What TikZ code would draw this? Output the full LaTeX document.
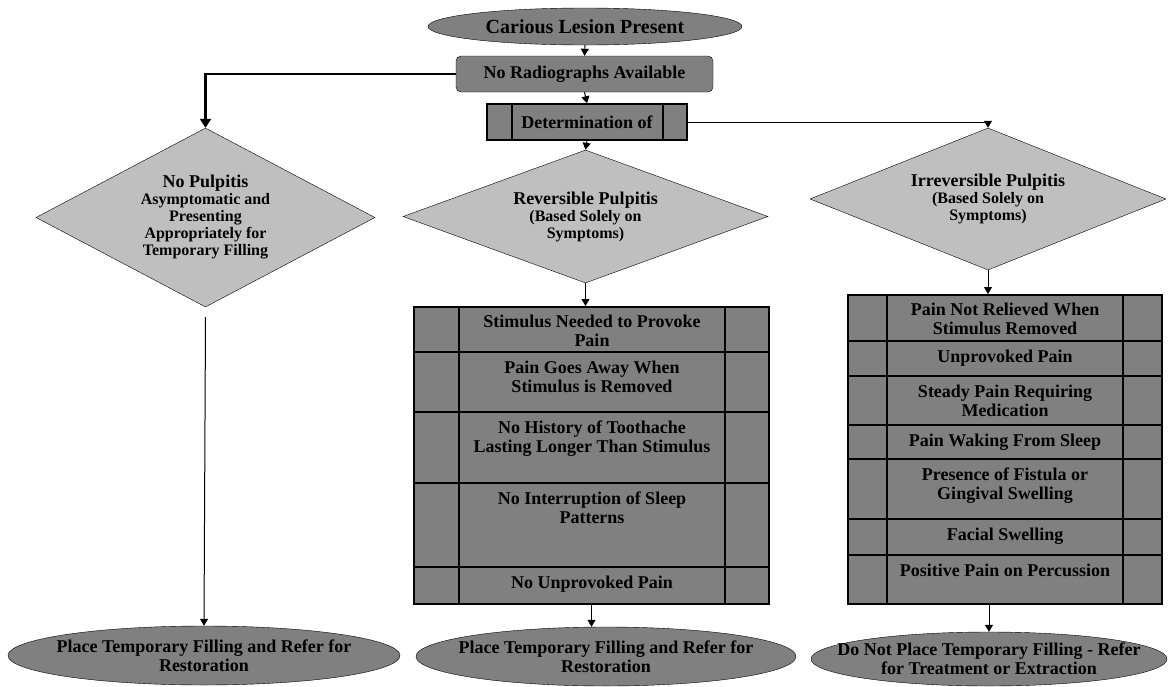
\documentclass[tikz,border=0pt]{standalone}
\usepackage{fontspec}
\setmainfont{Liberation Serif}
\usetikzlibrary{shapes.geometric,arrows.meta}

\tikzset{
  termfill/.style={fill=black!50,draw=black,thin},
  termtext/.style={align=center,inner sep=0pt},
  darkbox/.style={fill=black!50,draw=black,thin,align=center,inner sep=2pt},
  decision/.style={diamond,fill=black!25,draw=black,thin,align=center,inner sep=0pt,
    font=\bfseries\fontsize{16}{17}\selectfont},
  tabframe/.style={anchor=north west,fill=black!50,draw=black,line width=2pt,inner sep=0pt},
  tabline/.style={line width=2pt},
  rowtext/.style={anchor=north,align=center,inner xsep=2pt,inner ysep=9pt},
  flow/.style={-{Triangle[width=8pt,length=7pt]},line width=1pt},
  bigflow/.style={-{Triangle[width=11pt,length=9pt]},line width=2.5pt}
}
\newcommand{\headfont}{\fontsize{18}{19}\selectfont}

\begin{document}
\begin{tikzpicture}[x=1pt,y=-1pt,font=\bfseries\fontsize{18}{19}\selectfont]
\useasboundingbox (0,0) rectangle (1168,686);

\filldraw[termfill] (585,26.5) ellipse [x radius=157,y radius=18.5]
  node[termtext,minimum width=314pt,minimum height=37pt,font=\bfseries\fontsize{20}{21}\selectfont] (start) {Carious Lesion Present};
\node[darkbox,rounded corners=5pt,minimum width=257pt,minimum height=36pt] (radio) at (584.5,74) {No Radiographs Available};
\node[darkbox,line width=1.5pt,minimum width=200pt,minimum height=36pt] (det) at (587,122) {Determination of};
\draw[line width=1.5pt] (512,104) -- (512,140) (663,104) -- (663,140);

\node[decision,aspect=1.89,minimum width=339pt,minimum height=179pt] (ndia) at (205.5,217.5)
  {{\headfont No Pulpitis}\\Asymptomatic and\\Presenting\\Appropriately for\\Temporary Filling};
\node[decision,aspect=2.74,minimum width=365pt,minimum height=133pt] (rdia) at (585.5,216.5)
  {{\headfont Reversible Pulpitis}\\(Based Solely on\\Symptoms)};
\node[decision,aspect=2.5,minimum width=356pt,minimum height=142pt] (idia) at (988,199)
  {{\headfont Irreversible Pulpitis}\\(Based Solely on\\Symptoms)};

\node[tabframe,minimum width=355pt,minimum height=297pt] (mtab) at (413,306) {};
\draw[tabline] (459,306) -- (459,603) (725,306) -- (725,603);
\foreach \y in {352,412,483,567}
  \draw[tabline] (413,\y) -- (768,\y);
\node[rowtext] (m1) at (592,306) {Stimulus Needed to Provoke\\Pain};
\node[rowtext] (m2) at (592,352) {Pain Goes Away When\\Stimulus is Removed};
\node[rowtext] (m3) at (592,412) {No History of Toothache\\Lasting Longer Than Stimulus};
\node[rowtext] (m4) at (592,483) {No Interruption of Sleep\\Patterns};
\node[rowtext] (m5) at (592,567) {No Unprovoked Pain};

\node[tabframe,minimum width=314pt,minimum height=309pt] (itab) at (847,294) {};
\draw[tabline] (887,294) -- (887,603) (1123,294) -- (1123,603);
\foreach \y in {341,376,425,459,519,555}
  \draw[tabline] (847,\y) -- (1161,\y);
\node[rowtext] (i1) at (1005,294) {Pain Not Relieved When\\Stimulus Removed};
\node[rowtext] (i2) at (1005,341) {Unprovoked Pain};
\node[rowtext] (i3) at (1005,376) {Steady Pain Requiring\\Medication};
\node[rowtext] (i4) at (1005,425) {Pain Waking From Sleep};
\node[rowtext] (i5) at (1005,459) {Presence of Fistula or\\Gingival Swelling};
\node[rowtext] (i6) at (1005,519) {Facial Swelling};
\node[rowtext] (i7) at (1005,555) {Positive Pain on Percussion};

\filldraw[termfill] (204,655.5) ellipse [x radius=196,y radius=29.5]
  node[termtext,minimum width=392pt,minimum height=59pt] (nend) {Place Temporary Filling and Refer for\\Restoration};
\filldraw[termfill] (606,656.5) ellipse [x radius=190,y radius=29.5]
  node[termtext,minimum width=380pt,minimum height=59pt] (mend) {Place Temporary Filling and Refer for\\Restoration};
\filldraw[termfill] (989,659) ellipse [x radius=178,y radius=27]
  node[termtext,minimum width=356pt,minimum height=54pt] (iend) {Do Not Place Temporary Filling - Refer\\for Treatment or Extraction};

\draw[flow] (start.south) -- (radio.north);
\draw[flow] (radio.south) -- (det.north);
\draw[flow] (det.south) -- (rdia.north);
\draw[bigflow] (radio.west) -| (ndia.north);
\draw[flow] (det.east) -| (idia.north);
\draw[flow] (rdia.south) -- (rdia.south |- mtab.north);
\draw[flow] (idia.south) -- (idia.south |- itab.north);
\draw[flow] ([yshift=-10pt]ndia.south) -- (nend.north);
\draw[flow] (mtab.south) -- (mtab.south |- mend.north);
\draw[flow] (iend.north |- itab.south) -- (iend.north);
\end{tikzpicture}
\end{document}
